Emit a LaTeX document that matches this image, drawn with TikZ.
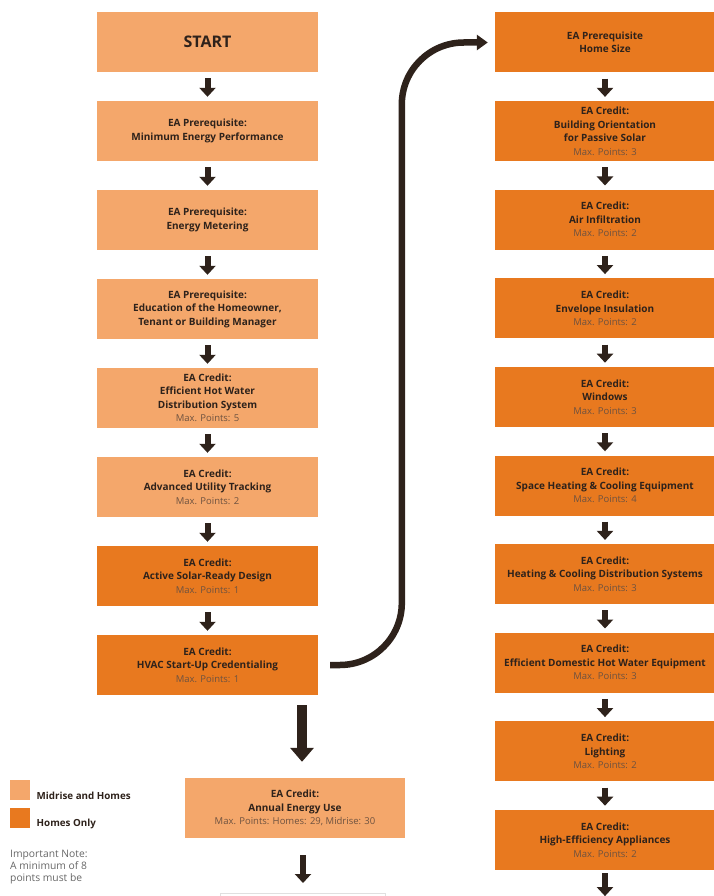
\documentclass[tikz,border=0pt]{standalone}
\usepackage{fontspec}
\setmainfont{Open Sans}
\usepackage{xcolor}
\usepackage{tikz}
\usetikzlibrary{positioning, arrows.meta}
\definecolor{lightor}{HTML}{F4A76B}
\definecolor{darkor}{HTML}{E8791F}
\definecolor{ink}{HTML}{2E221B}
\definecolor{ptcol}{HTML}{6E5240}
\definecolor{notecol}{HTML}{666666}
\newcommand{\maxpts}[1]{{\fontsize{9.5}{13.5}\selectfont\mdseries\color{ptcol}Max. Points: #1}}

\begin{document}
\begin{tikzpicture}[x=1pt, y=-1pt,
    every node/.style={font=\fontsize{10}{13.5}\selectfont\bfseries, text=ink},
    box/.style={rectangle, minimum width=221pt, minimum height=60pt,
      align=center, inner sep=0pt},
    lbox/.style={box, fill=lightor},
    dbox/.style={box, fill=darkor},
    rbox/.style={dbox, minimum width=220pt},
    arr/.style={-{Triangle[width=16pt, length=9pt]}, line width=6pt,
      color=ink, shorten <=6pt, shorten >=4pt},
    bigarr/.style={-{Triangle[width=23pt, length=14pt]}, line width=10pt, color=ink},
    curvarr/.style={-{Triangle[width=15pt, length=11pt]}, line width=6.5pt,
      color=ink, rounded corners=62pt},
    node distance=28.6pt]
  \useasboundingbox (0,0) rectangle (713,896);

  % left column
  \node[lbox, font=\fontsize{16}{18}\selectfont\bfseries] (start) at (207.5,42) {START};
  \node[lbox, below=of start] (minperf) {EA Prerequisite:\\Minimum Energy Performance};
  \node[lbox, below=of minperf] (meter) {EA Prerequisite:\\Energy Metering};
  \node[lbox, below=of meter] (educ) {EA Prerequisite:\\Education of the Homeowner,\\Tenant or Building Manager};
  \node[lbox, below=of educ] (hotwater) {EA Credit:\\Efficient Hot Water\\Distribution System\\\maxpts{5}};
  \node[lbox, below=of hotwater] (tracking) {EA Credit:\\Advanced Utility Tracking\\\maxpts{2}};
  \node[dbox, below=of tracking] (solar) {EA Credit:\\Active Solar-Ready Design\\\maxpts{1}};
  \node[dbox, below=of solar] (hvac) {EA Credit:\\HVAC Start-Up Credentialing\\\maxpts{1}};

  % right column
  \begin{scope}[node distance=28.2pt]
  \node[rbox] (homesize) at (605,42.5) {EA Prerequisite\\Home Size};
  \node[rbox, below=of homesize] (orient) {EA Credit:\\Building Orientation\\for Passive Solar\\\maxpts{3}};
  \node[rbox, below=of orient] (infil) {EA Credit:\\Air Infiltration\\\maxpts{2}};
  \node[rbox, below=of infil] (envel) {EA Credit:\\Envelope Insulation\\\maxpts{2}};
  \node[rbox, below=of envel] (windows) {EA Credit:\\Windows\\\maxpts{3}};
  \node[rbox, below=of windows] (spaceheat) {EA Credit:\\Space Heating \& Cooling Equipment\\\maxpts{4}};
  \node[rbox, below=of spaceheat] (distrib) {EA Credit:\\Heating \& Cooling Distribution Systems\\\maxpts{3}};
  \node[rbox, below=of distrib] (dhw) {EA Credit:\\Efficient Domestic Hot Water Equipment\\\maxpts{3}};
  \node[rbox, below=of dhw] (lighting) {EA Credit:\\Lighting\\\maxpts{2}};
  \node[rbox, below=of lighting] (appl) {EA Credit:\\High-Efficiency Appliances\\\maxpts{2}};
  \end{scope}
  \coordinate (rend) at ([yshift=-26pt]appl.south);

  % bottom middle
  \node[lbox, minimum width=220pt] (annual) at (295,808) {EA Credit:\\Annual Energy Use\\\maxpts{Homes: 29, Midrise: 30}};
  \node[rectangle, draw=black!12, fill=white, minimum width=165pt, minimum height=40pt,
    anchor=north] (nextbox) at (303,893) {};
  \coordinate (bigtop) at (302,705);

  \foreach \a/\b in {start/minperf, minperf/meter, meter/educ, educ/hotwater,
      hotwater/tracking, tracking/solar, solar/hvac,
      homesize/orient, orient/infil, infil/envel, envel/windows, windows/spaceheat,
      spaceheat/distrib, distrib/dhw, dhw/lighting, lighting/appl}
    \draw[arr] (\a) -- (\b);
  \draw[arr, shorten <=3pt, shorten >=0pt] (appl) -- (rend);
  \draw[bigarr, shorten >=16pt] (bigtop) -- (bigtop |- annual.north);
  \draw[arr, shorten <=17pt, shorten >=10pt] (nextbox.north |- annual.south) -- (nextbox.north);
  \draw[curvarr] ([xshift=12pt]hvac.east) -| ([xshift=-93pt]homesize.west)
    -- ([xshift=-7pt]homesize.west);

  % legend
  \node[rectangle, fill=lightor, minimum size=20pt, inner sep=0pt] (keymid) at (20,790) {};
  \node[rectangle, fill=darkor, minimum size=20pt, inner sep=0pt] (keyhome) at (20,818) {};
  \node[anchor=west, font=\fontsize{9.8}{11}\selectfont\bfseries] (keymidtxt)
    at ([xshift=3pt, yshift=-6pt]keymid.east) {Midrise and Homes};
  \node[anchor=west, font=\fontsize{9.8}{11}\selectfont\bfseries] (keyhometxt)
    at ([xshift=3pt, yshift=-6pt]keyhome.east) {Homes Only};
  \node[anchor=north west, align=left, inner sep=0pt, text=notecol,
    font=\fontsize{10.3}{12}\selectfont] (note) at (10,850)
    {Important Note:\\A minimum of 8\\points must be};
\end{tikzpicture}
\end{document}
